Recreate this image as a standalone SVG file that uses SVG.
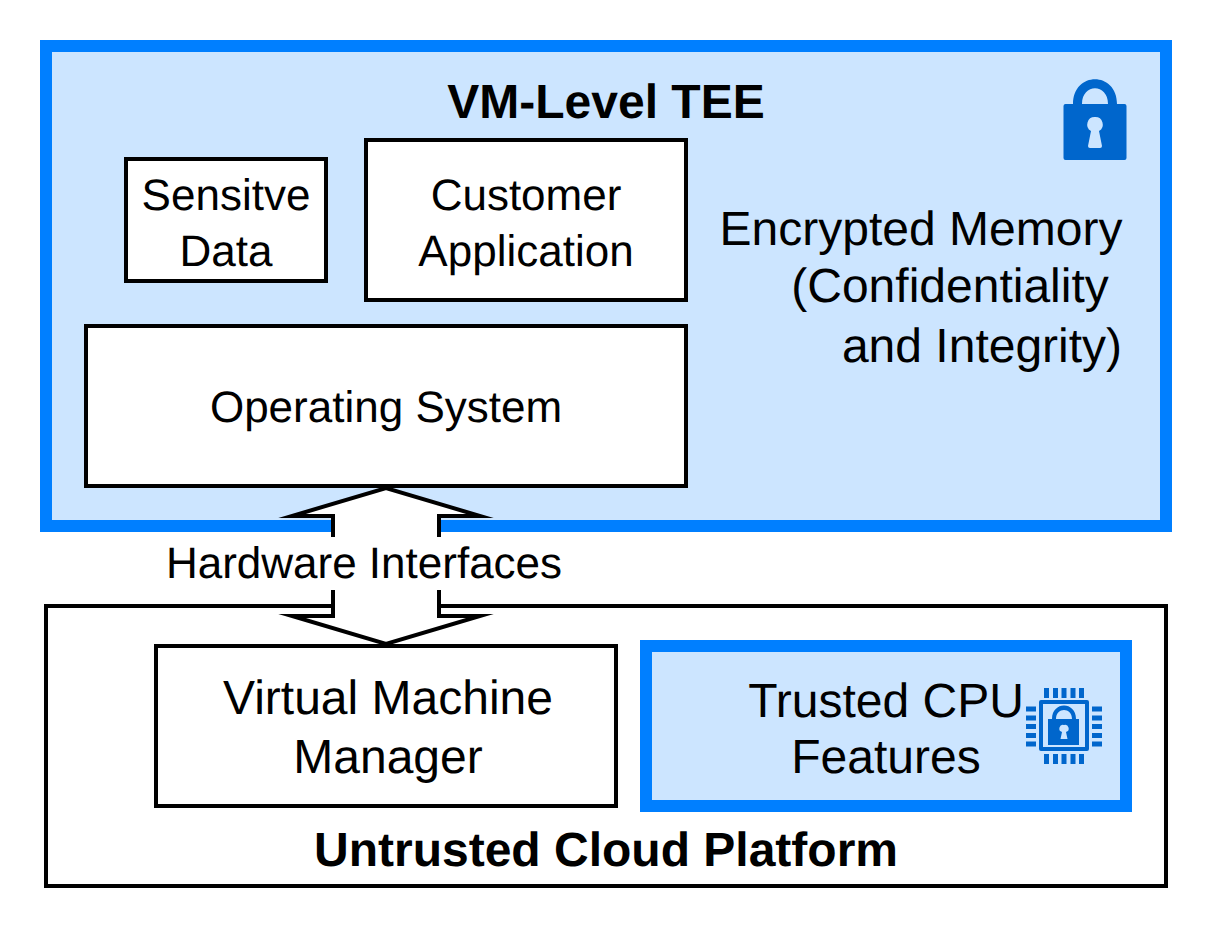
<svg xmlns="http://www.w3.org/2000/svg" width="1212" height="928" viewBox="0 0 1212 928">
<defs><style>
text{font-family:"Liberation Sans",Arial,sans-serif;font-size:44px;fill:#000;text-anchor:middle;text-rendering:geometricPrecision}
.b{font-weight:bold;font-size:48px}
.l{font-size:48px}
.box{fill:#fff;stroke:#000;stroke-width:4}
.tee{fill:#cce5ff;stroke:#007fff;stroke-width:12}
.ic{fill:#0066cc}
</style></defs>
<rect width="1212" height="928" fill="#fff"/>
<g id="tee"><rect class="tee" x="46" y="46" width="1120" height="480"/>
<text class="b" x="606" y="118">VM-Level TEE</text></g>
<g id="platform"><rect x="46" y="606" width="1120" height="280" fill="#fff" stroke="#000" stroke-width="4"/>
<text class="b" x="606" y="865.500">Untrusted Cloud Platform</text></g>
<g id="connectors">
<path class="box" stroke-miterlimit="10" d="M333 537V516H292L386 488L480 516H439V537V590V616H480L386 644L292 616H333V590Z"/>
<rect x="166" y="537" width="396" height="53" fill="#fff"/>
<text x="364" y="577.500">Hardware Interfaces</text>
</g>
<g id="data"><rect class="box" x="126" y="159" width="200" height="122"/>
<text x="226" y="209.500">Sensitve</text><text x="226" y="265.500">Data</text></g>
<g id="app"><rect class="box" x="366" y="140" width="320" height="160"/>
<text x="526" y="209.500">Customer</text><text x="526" y="265.500">Application</text></g>
<g id="os"><rect class="box" x="86" y="326" width="600" height="160"/>
<text x="386" y="421.500">Operating System</text></g>
<g id="memory">
<text class="l" x="921" y="245">Encrypted Memory</text>
<text class="l" x="950" y="301.500">(Confidentiality</text>
<text class="l" x="982" y="361.500">and Integrity)</text>
</g>
<g id="lock">
<path class="ic" fill-rule="evenodd" d="M1063.500 106Q1063.500 104 1065.500 104H1073C1073 71 1117 71 1117 104H1124.500Q1126.500 104 1126.500 106V158Q1126.500 160 1124.500 160H1065.500Q1063.500 160 1063.500 158ZM1082 104H1108C1108 83 1082 83 1082 104ZM1095 117A7.500 7.500 0 0 0 1091 131L1088 146Q1088 148 1090 148H1100Q1102 148 1102 146L1099 131A7.500 7.500 0 0 0 1095 117Z"/>
</g>
<g id="vmm"><rect class="box" x="156" y="646" width="460" height="160"/>
<text class="l" x="388" y="714">Virtual Machine</text><text class="l" x="388" y="773">Manager</text></g>
<g id="cpu"><rect class="tee" x="646" y="646" width="480" height="160"/>
<text class="l" x="886" y="717">Trusted CPU</text><text class="l" x="886" y="773">Features</text>
<g id="chip" class="ic">
<path fill-rule="evenodd" d="M1041 700H1087Q1089 700 1089 702V749Q1089 751 1087 751H1041Q1039 751 1039 749V702Q1039 700 1041 700ZM1043 704V747H1085V704Z"/>
<path fill-rule="evenodd" d="M1048 719H1052C1052 701 1076 701 1076 719H1079V745H1048ZM1056 719H1072C1072 707 1056 707 1056 719ZM1064 725A3.500 3.500 0 0 0 1062 732L1060.500 739H1067.500L1066 732A3.500 3.500 0 0 0 1064 725Z"/>
<path d="M1044 688h5v10h-5zM1053 688h5v10h-5zM1061.500 688h5v10h-5zM1070.500 688h5v10h-5zM1079 688h5v10h-5zM1044 754h5v10h-5zM1053 754h5v10h-5zM1061.500 754h5v10h-5zM1070.500 754h5v10h-5zM1079 754h5v10h-5zM1026 706.500h10v5h-10zM1026 715.500h10v5h-10zM1026 724h10v5h-10zM1026 733h10v5h-10zM1026 741.500h10v5h-10zM1092 706.500h10v5h-10zM1092 715.500h10v5h-10zM1092 724h10v5h-10zM1092 733h10v5h-10zM1092 741.500h10v5h-10z"/>
</g></g>
</svg>
